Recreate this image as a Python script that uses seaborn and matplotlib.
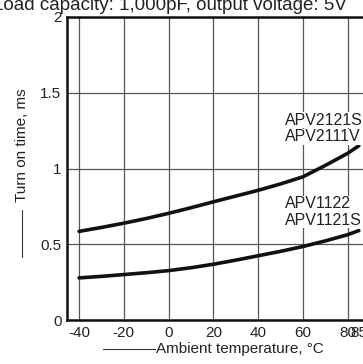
import numpy as np
import pandas as pd
import matplotlib
matplotlib.use("Agg")
import matplotlib.pyplot as plt
from matplotlib.lines import Line2D
import seaborn as sns

# values
temps = [-40, -30, -20, -10, 0, 10, 20, 30, 40, 50, 60, 70, 80, 85]
apv2121 = [0.585, 0.611, 0.639, 0.670, 0.704, 0.741, 0.780, 0.818, 0.856, 0.898, 0.945, 1.020, 1.100, 1.150]
apv1122 = [0.278, 0.288, 0.300, 0.312, 0.326, 0.345, 0.368, 0.395, 0.424, 0.453, 0.485, 0.522, 0.563, 0.590]
series_names = ["APV2121S\nAPV2111V", "APV1122\nAPV1121S"]
x_ticks = [-40, -20, 0, 20, 40, 60, 80]
y_ticks = [0, 0.5, 1, 1.5, 2]
y_tick_labels = ["0", "0.5", "1", "1.5", "2"]

df = pd.DataFrame({
    "temp": temps * 2,
    "time": apv2121 + apv1122,
    "series": [series_names[0]] * len(temps) + [series_names[1]] * len(temps),
})

sns.set_style("white")
plt.rcParams["font.family"] = ["Liberation Sans", "DejaVu Sans"]
txt = "#222222"

fig = plt.figure(figsize=(3.63, 3.64), dpi=100)
ax = fig.add_axes([67 / 363, 44 / 364, 303 / 363, 303 / 364])

sns.lineplot(data=df, x="temp", y="time", hue="series",
             palette=["#111111", "#111111"], linewidth=2.6,
             legend=False, ax=ax, zorder=3)

ax.set_xlim(-45.4, 90)
ax.set_ylim(0, 2)
ax.set_xticks(x_ticks)
ax.set_xticks([85], minor=True)
ax.set_xticklabels([str(t) for t in x_ticks])
ax.set_xticklabels(["85"], minor=True)
ax.set_yticks(y_ticks)
ax.set_yticklabels(y_tick_labels)
ax.tick_params(axis="both", which="both", length=0, labelsize=11,
               labelcolor=txt, pad=4)
ax.grid(True, which="major", color="#555555", linewidth=0.9)
for s in ax.spines.values():
    s.set_color("#111111")
    s.set_linewidth(1.8)
ax.set_xlabel("")
ax.set_ylabel("")

# curve labels
label_box = dict(fc="white", ec="none", pad=0.5)
ax.text(52, 1.32, "APV2121S", fontsize=11.5, color=txt, va="center", ha="left",
        zorder=4, bbox=label_box)
ax.text(52, 1.21, "APV2111V", fontsize=11.5, color=txt, va="center", ha="left",
        zorder=4, bbox=label_box)
ax.text(52, 0.768, "APV1122", fontsize=11.5, color=txt, va="center", ha="left",
        zorder=4, bbox=label_box)
ax.text(52, 0.659, "APV1121S", fontsize=11.5, color=txt, va="center", ha="left",
        zorder=4, bbox=label_box)

# axis titles with the leading rule
fig.text(156 / 363, 1 - 349 / 364, "Ambient temperature, °C", fontsize=11,
         color=txt, ha="left", va="center")
fig.add_artist(Line2D([103 / 363, 155 / 363], [1 - 349 / 364, 1 - 349 / 364],
                      color="#333333", linewidth=0.8))
fig.text(22 / 363, 1 - 145 / 364, "Turn on time, ms", fontsize=11,
         color=txt, ha="center", va="center", rotation=90)
fig.add_artist(Line2D([22 / 363, 22 / 363], [1 - 210 / 364, 1 - 257 / 364],
                      color="#333333", linewidth=0.8))

fig.text(170 / 363, 1 - 10 / 364, "Load capacity: 1,000pF, output voltage: 5V",
         fontsize=13.5, color=txt, ha="center", va="baseline")

fig.savefig("out.png", dpi=100)
